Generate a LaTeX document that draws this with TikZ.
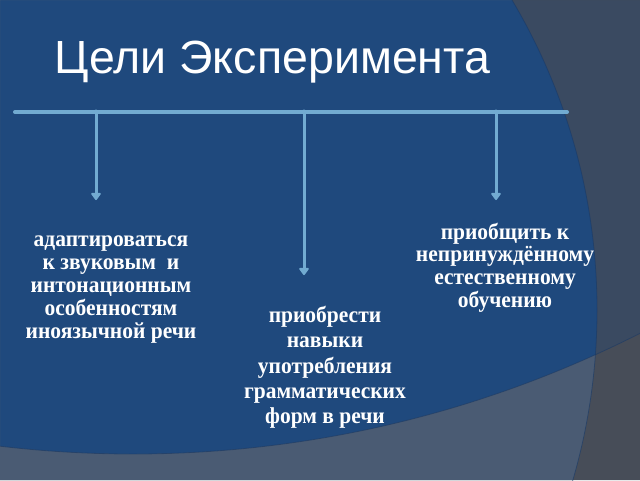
\documentclass[tikz,border=0pt]{standalone}
\usepackage{fontspec}
\setmainfont{Liberation Serif}
\newfontfamily\titlefont{Liberation Sans}
\usetikzlibrary{arrows.meta}
\definecolor{bgblue}{HTML}{1F497D}
\definecolor{bggray}{HTML}{3A4A61}
\definecolor{bandblue}{HTML}{4A5B73}
\definecolor{bandgray}{HTML}{474D58}
\definecolor{edge}{HTML}{1A3A66}
\definecolor{barblue}{HTML}{72ABD1}
\newcommand\tallblock[2]{\scalebox{1}[1.06]{\fontsize{21.5}{#1}\selectfont\bfseries\begin{tabular}{@{}c@{}}#2\end{tabular}}}
\tikzset{
  bar/.style={draw=barblue, line width=4pt, line cap=round},
  branch/.style={draw=barblue, line width=3pt, -{Triangle[length=8pt,width=11pt,round]}},
  joint/.style={fill=barblue, circle, inner sep=0pt, minimum size=5pt},
  goal/.style={text=white, align=center, inner sep=0pt},
  heading/.style={text=white, inner sep=0pt, font=\titlefont\fontsize{46.5}{50}\selectfont}
}
\begin{document}
\begin{tikzpicture}[x=1pt,y=-1pt]
\useasboundingbox (0,0) rectangle (640,480);
\clip (0,0) rectangle (640,480);
% background
\fill[bggray] (0,0) rectangle (640,480);
\fill[bandgray, even odd rule] (0,0) rectangle (640,480) (133,-669) circle (1123pt);
\begin{scope}
  \clip (133,-669) circle (1123pt);
  \fill[bgblue] (-10,310) circle (607pt);
\end{scope}
\begin{scope}
  \clip (-10,310) circle (607pt);
  \fill[bandblue, even odd rule] (0,0) rectangle (640,480) (133,-669) circle (1123pt);
\end{scope}
\draw[edge, line width=0.8pt, opacity=0.6] (-10,310) circle (607pt);
\draw[edge, line width=0.8pt, opacity=0.6] (133,-669) circle (1123pt);
% title
\node[heading, anchor=base] (title) at (272.5,73) {Цели Эксперимента};
% bar and branches
\coordinate (barL) at (15,112);
\coordinate (barR) at (567,112);
\coordinate (j1) at (96,112);
\coordinate (j2) at (304,112);
\coordinate (j3) at (496,112);
\coordinate (t1) at (96,200);
\coordinate (t2) at (304,275);
\coordinate (t3) at (496,200);
\draw[bar] (barL) -- (barR);
\draw[branch] (j1) -- (t1);
\draw[branch] (j2) -- (t2);
\draw[branch] (j3) -- (t3);
\node[joint] (k1) at (j1) {};
\node[joint] (k2) at (j2) {};
\node[joint] (k3) at (j3) {};
% goals
\node[goal] (g1) at (111,288)
  {\tallblock{21.7}{адаптироваться\\к звуковым \ и\\интонационным\\особенностям\\иноязычной речи}};
\node[goal] (g2) at (325,368)
  {\tallblock{23.6}{приобрести\\навыки\\употребления\\грамматических\\форм в речи}};
\node[goal] (g3) at (505,268.5)
  {\tallblock{21.2}{приобщить к\\непринуждённому\\естественному\\обучению}};
\end{tikzpicture}
\end{document}
